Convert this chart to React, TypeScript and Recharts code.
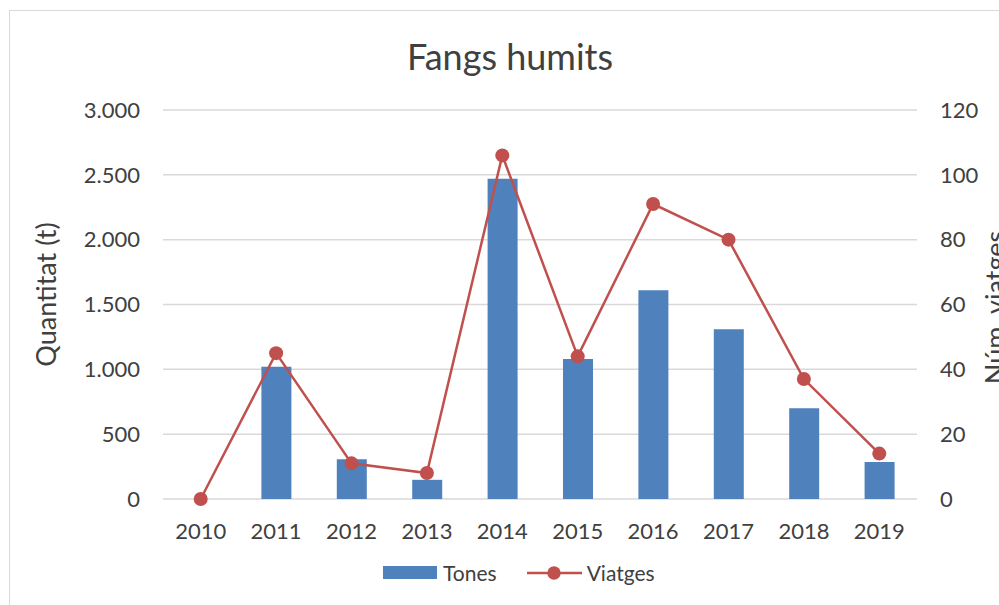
import {
  ComposedChart,
  Bar,
  Line,
  XAxis,
  YAxis,
  CartesianGrid,
  Legend,
  Label,
} from "recharts";

const years = ["2010", "2011", "2012", "2013", "2014", "2015", "2016", "2017", "2018", "2019"];
const tones = [0, 1020, 306, 148, 2470, 1080, 1610, 1310, 700, 285];
const viatges = [0, 45, 11, 8, 106, 44, 91, 80, 37, 14];

const leftTicks = [0, 500, 1000, 1500, 2000, 2500, 3000];
const rightTicks = [0, 20, 40, 60, 80, 100, 120];

const chartData = years.map((year, i) => ({
  year,
  tones: tones[i],
  viatges: viatges[i],
}));

const FONT = "Lato, 'Liberation Sans', sans-serif";
const TEXT = "#404040";
const BLUE = "#4F81BD";
const RED = "#C0504D";

// thousands with a dot, like the catalan excel output
const fmtThousands = (v: number) => String(v).replace(/\B(?=(\d{3})+(?!\d))/g, ".");

// rotated axis title, placed from the axis viewBox
function AxisTitle({ viewBox, value, cx, shift }: any) {
  const y = viewBox.y + viewBox.height / 2 + shift;
  const x = viewBox.x + cx;
  return (
    <text
      x={x}
      y={y}
      transform={`rotate(-90, ${x}, ${y})`}
      textAnchor="middle"
      dominantBaseline="central"
      fontSize={27}
      fill={TEXT}
      fontFamily={FONT}
    >
      {value}
    </text>
  );
}

function LegendContent() {
  return (
    <div style={{ display: "flex", alignItems: "center", fontFamily: FONT, fontSize: 21, color: TEXT }}>
      <span style={{ display: "inline-block", width: 54, height: 13, background: BLUE }} />
      <span style={{ marginLeft: 6 }}>Tones</span>
      <svg width={55} height={16} style={{ marginLeft: 30 }}>
        <line x1={0} y1={8} x2={55} y2={8} stroke={RED} strokeWidth={2.5} />
        <circle cx={27} cy={8} r={6.7} fill={RED} />
      </svg>
      <span style={{ marginLeft: 5 }}>Viatges</span>
    </div>
  );
}

export default function App() {
  return (
    <div style={{ position: "fixed", left: 0, top: 0, width: 999, height: 605, overflow: "hidden", background: "#fff" }}>
      <div
        style={{
          position: "absolute",
          left: 9,
          top: 10,
          width: 1100,
          height: 700,
          border: "1.5px solid #D9D9D9",
        }}
      />
      <div
        style={{
          position: "absolute",
          left: 510,
          top: 33,
          transform: "translateX(-50%)",
          whiteSpace: "nowrap",
          fontFamily: FONT,
          fontSize: 36,
          lineHeight: "46px",
          color: TEXT,
        }}
      >
        Fangs humits
      </div>
      <div style={{ position: "absolute", left: 0, top: 0 }}>
        <ComposedChart
          width={1017}
          height={605}
          data={chartData}
          margin={{ top: 110, right: 10, bottom: 31, left: 20 }}
        >
          <CartesianGrid yAxisId="left" vertical={false} stroke="#D9D9D9" strokeWidth={1.5} />
          <XAxis
            dataKey="year"
            axisLine={false}
            tickLine={false}
            tickSize={0}
            tickMargin={24}
            height={50}
            tick={{ fontSize: 22, fill: TEXT, fontFamily: FONT }}
          />
          <YAxis
            yAxisId="left"
            domain={[0, 3000]}
            ticks={leftTicks}
            tickFormatter={fmtThousands}
            axisLine={false}
            tickLine={false}
            tickSize={0}
            tickMargin={23}
            width={143}
            tick={{ fontSize: 22, fill: TEXT, fontFamily: FONT }}
          >
            <Label value="Quantitat (t)" content={(p: any) => <AxisTitle {...p} value="Quantitat (t)" cx={25} shift={-10} />} />
          </YAxis>
          <YAxis
            yAxisId="right"
            orientation="right"
            domain={[0, 120]}
            ticks={rightTicks}
            axisLine={false}
            tickLine={false}
            tickSize={0}
            tickMargin={23}
            width={90}
            tick={{ fontSize: 22, fill: TEXT, fontFamily: FONT, textAnchor: "start" }}
          >
            <Label value="Núm. viatges" content={(p: any) => <AxisTitle {...p} value="Núm. viatges" cx={77} shift={3} />} />
          </YAxis>
          <Legend
            content={() => <LegendContent />}
            wrapperStyle={{ position: "absolute", left: 383, top: 560, width: 330 }}
          />
          <Bar yAxisId="left" dataKey="tones" name="Tones" fill={BLUE} barSize={30} isAnimationActive={false} />
          <Line
            yAxisId="right"
            type="linear"
            dataKey="viatges"
            name="Viatges"
            stroke={RED}
            strokeWidth={2.5}
            dot={{ r: 7, fill: RED, stroke: RED, strokeWidth: 0 }}
            isAnimationActive={false}
          />
        </ComposedChart>
      </div>
    </div>
  );
}
